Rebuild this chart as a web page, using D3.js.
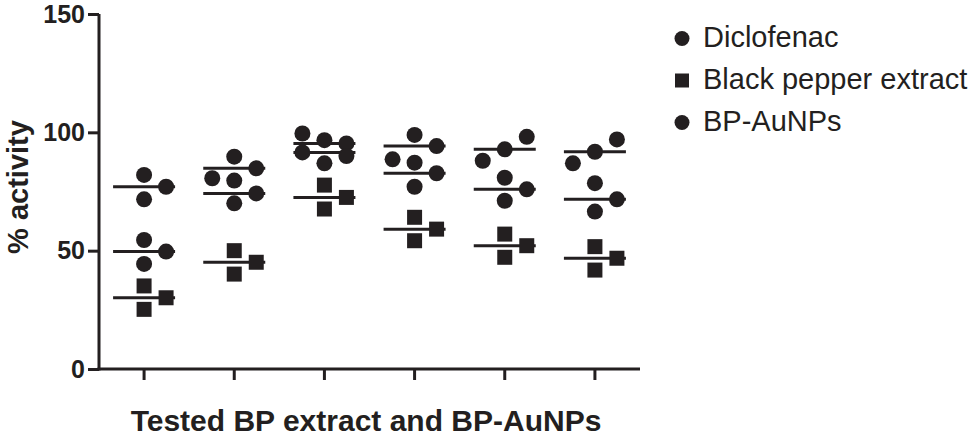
<!DOCTYPE html>
<html><head><meta charset="utf-8">
<script src="https://cdn.jsdelivr.net/npm/d3@7"></script>
<style>body{margin:0;background:#fff}svg{display:block}</style>
</head><body><svg id="chart" width="971" height="443"></svg>
<script>
// ---- data ----
const categories = ["G1", "G2", "G3", "G4", "G5", "G6"];
const seriesNames = ["Diclofenac", "Black pepper extract", "BP-AuNPs"];
const diclofenac  = [[54.5, 44.4, 49.6], [79.6, 70.0, 74.2], [96.7, 86.9, 95.3], [77.0, 87.2, 82.7], [71.1, 80.8, 75.9], [66.5, 78.5, 71.7]];
const blackPepper = [[35.1, 25.2, 30.1], [50.0, 40.1, 45.1], [77.7, 67.6, 72.5], [64.1, 54.2, 59.1], [57.0, 47.2, 52.1], [51.7, 41.8, 46.8]];
const bpAuNPs     = [[82.0, 71.7, 77.0], [89.7, 84.8, 80.6], [99.5, 91.5, 90.0], [98.9, 94.2, 88.6], [92.8, 98.1, 88.0], [91.8, 97.0, 86.9]];
const yTicks = [0, 50, 100, 150];
const yTitle = "% activity";
const xTitle = "Tested BP extract and BP-AuNPs";

// ---- setup ----
const seriesValues = [diclofenac, blackPepper, bpAuNPs];
const ink = "#231f20";
const font = "'Liberation Sans', Arial, Helvetica, sans-serif";
const symbolTypes = [d3.symbolCircle, d3.symbolSquare, d3.symbolCircle];
const symbolSizes = [Math.PI * 64, 225, Math.PI * 64];

const svg = d3.select("#chart");
const x = d3.scaleBand().domain(categories).range([99, 640]);
const y = d3.scaleLinear().domain([0, 150]).range([369, 14]);
const slot = d3.scaleLinear().domain([-1, 1]).range([-22, 22]);
const halfLine = 31;

// ---- dodge placement (greedy, alternating side per series) ----
const points = [];
const medians = [];
categories.forEach((cat, gi) => {
  const placed = [];
  seriesValues.forEach((sv, si) => {
    let toggle = 1;
    sv[gi].forEach(v => {
      const py = y(v);
      const cands = [0, toggle, -toggle];
      let chosen = cands.find(c => placed.every(p => p.s !== c || Math.abs(p.py - py) >= 16.5));
      if (chosen === undefined) {
        let best = -1;
        cands.forEach(c => {
          const same = placed.filter(p => p.s === c);
          const m = same.length ? d3.min(same, p => Math.abs(p.py - py)) : Infinity;
          if (m > best) { best = m; chosen = c; }
        });
      }
      if (chosen !== 0) toggle = -chosen;
      const pt = {cat, si, v, py, s: chosen};
      placed.push(pt);
      points.push(pt);
    });
    medians.push({cat, si, v: d3.median(sv[gi])});
  });
});

// ---- median lines ----
svg.append("g").selectAll("line").data(medians).join("line")
  .attr("x1", d => x(d.cat) + x.bandwidth() / 2 - halfLine)
  .attr("x2", d => x(d.cat) + x.bandwidth() / 2 + halfLine)
  .attr("y1", d => y(d.v)).attr("y2", d => y(d.v))
  .attr("stroke", ink).attr("stroke-width", 3);

// ---- points ----
svg.append("g").selectAll("path").data(points).join("path")
  .attr("d", d => d3.symbol().type(symbolTypes[d.si]).size(symbolSizes[d.si])())
  .attr("transform", d => `translate(${x(d.cat) + x.bandwidth() / 2 + slot(d.s)},${y(d.v)})`)
  .attr("fill", ink);

// ---- axes ----
const yAxis = svg.append("g").attr("transform", "translate(99,0)")
  .call(d3.axisLeft(y).tickValues(yTicks).tickSize(11).tickSizeOuter(0).tickPadding(3));
const xAxis = svg.append("g").attr("transform", "translate(0,369)")
  .call(d3.axisBottom(x).tickSize(11).tickSizeOuter(0).tickFormat(""));
[yAxis, xAxis].forEach(g => {
  g.select(".domain").attr("stroke", ink).attr("stroke-width", 3);
  g.selectAll(".tick line").attr("stroke", ink).attr("stroke-width", 3);
});
yAxis.select(".domain").attr("d", "M0,14V370.5");
xAxis.select(".domain").attr("d", "M97.5,0H640");
yAxis.selectAll(".tick text").attr("fill", ink)
  .style("font-family", font).style("font-size", "25px").style("font-weight", "bold");

// ---- titles ----
svg.append("text").attr("transform", "translate(28,187) rotate(-90)")
  .attr("text-anchor", "middle").attr("fill", ink)
  .style("font-family", font).style("font-size", "29px").style("font-weight", "bold")
  .text(yTitle);
svg.append("text").attr("x", 366).attr("y", 431)
  .attr("text-anchor", "middle").attr("fill", ink)
  .style("font-family", font).style("font-size", "30px").style("font-weight", "bold")
  .text(xTitle);

// ---- legend ----
const legend = svg.append("g").selectAll("g").data(seriesNames).join("g")
  .attr("transform", (d, i) => `translate(682,${38.5 + i * 42})`);
legend.append("path")
  .attr("d", (d, i) => d3.symbol().type(symbolTypes[i]).size(i === 1 ? 196 : Math.PI * 56)())
  .attr("fill", ink);
legend.append("text").attr("x", 21).attr("y", 8.5).attr("fill", ink)
  .style("font-family", font).style("font-size", "29px")
  .text(d => d);
</script>
</body></html>
